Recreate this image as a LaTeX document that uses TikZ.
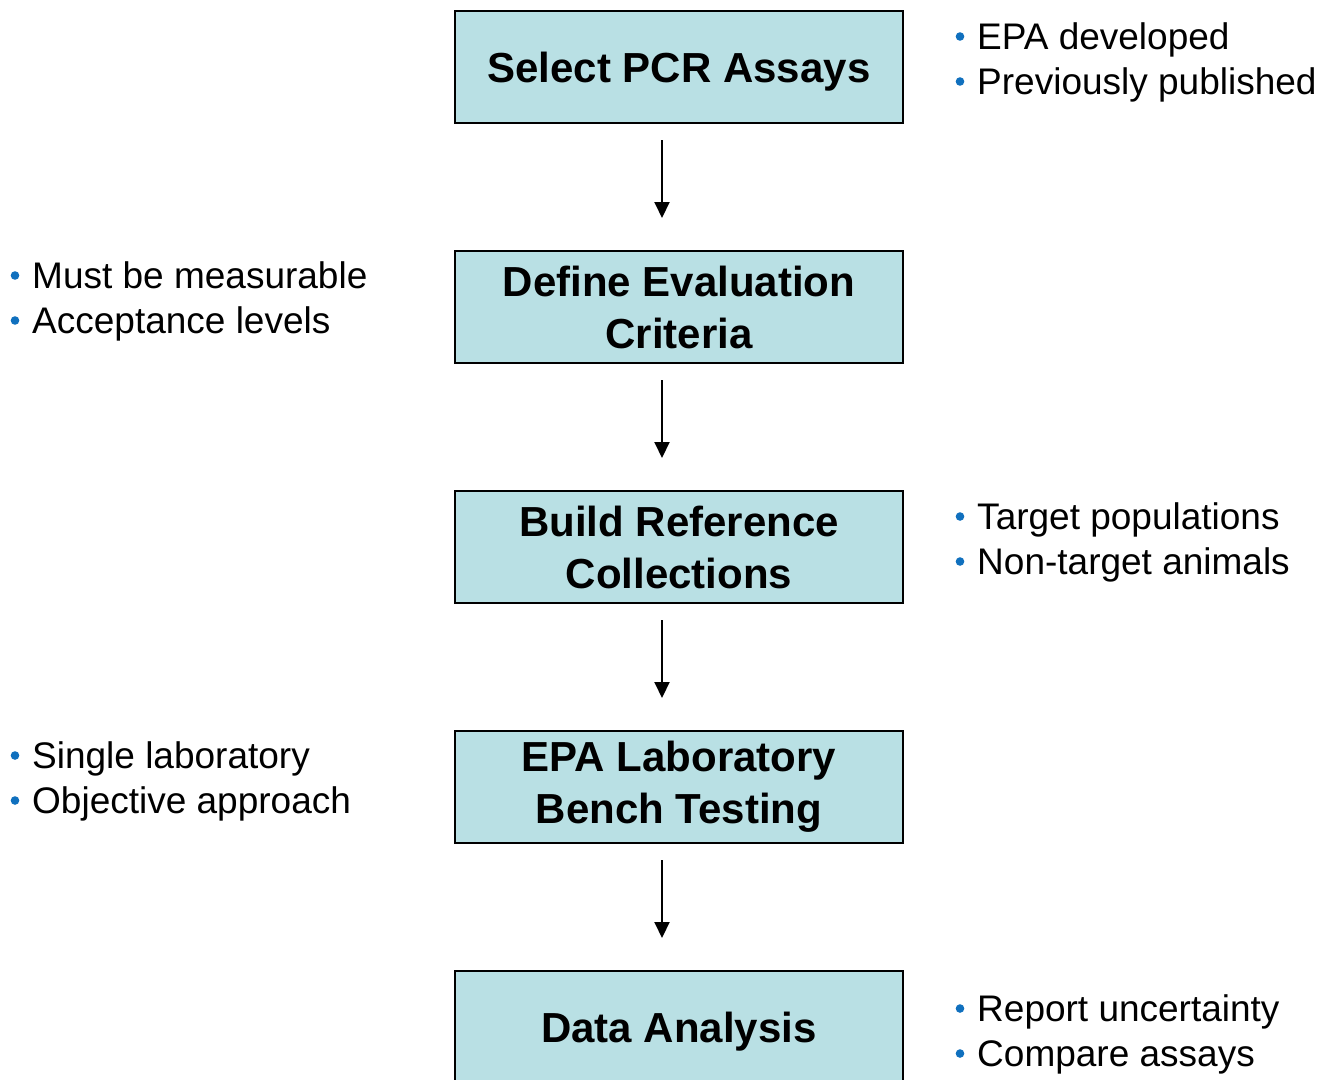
\documentclass[tikz,border=0pt]{standalone}
\usepackage{fontspec}
\setmainfont{Liberation Sans}
\usetikzlibrary{arrows.meta}
\definecolor{boxfill}{RGB}{185,224,228}
\definecolor{bulletblue}{RGB}{16,112,190}
\tikzset{
  stepbox/.style={draw=black, line width=2pt, fill=boxfill,
    minimum width=448pt, minimum height=112pt, inner sep=0pt,
    align=center, font=\fontsize{42}{52}\selectfont\bfseries},
  oneline/.style={text depth=0pt},
  item/.style={anchor=base west, inner sep=0pt,
    font=\fontsize{37}{45}\selectfont},
  flow/.style={line width=2pt, -{Triangle[width=15pt,length=16pt]}},
  dot/.style={fill=bulletblue}
}
\begin{document}
\begin{tikzpicture}[x=1pt,y=-1pt]
\useasboundingbox (0,0) rectangle (1321,1079);
\begin{scope}
\clip (0,0) rectangle (1321,1079);

% process steps
\node[stepbox,oneline] (s1) at (679,67)  {Select PCR Assays};
\node[stepbox] (s2) at (679,307) {Define Evaluation\\Criteria};
\node[stepbox] (s3) at (679,547) {Build Reference\\Collections};
\node[stepbox] (s4) at (679,787) {EPA Laboratory\\Bench Testing};
\node[stepbox,oneline] (s5) at (679,1027) {Data Analysis};
\end{scope}

% arrows between steps
\foreach \a/\b in {s1/s2,s2/s3,s3/s4,s4/s5}
  \draw[flow] ([xshift=-17pt,yshift=-16pt]\a.south) -- ([xshift=-17pt,yshift=32pt]\b.north);

% side notes
\node[item] (n1a) at (977,49)  {EPA developed};
\node[item] (n1b) at (977,94)  {Previously published};
\node[item] (n2a) at (32,288)  {Must be measurable};
\node[item] (n2b) at (32,333)  {Acceptance levels};
\node[item] (n3a) at (977,529) {Target populations};
\node[item] (n3b) at (977,574) {Non-target animals};
\node[item] (n4a) at (32,768)  {Single laboratory};
\node[item] (n4b) at (32,813)  {Objective approach};
\node[item] (n5a) at (977,1021) {Report uncertainty};
\node[item] (n5b) at (977,1066) {Compare assays};

% bullets
\foreach \n in {n1a,n1b,n2a,n2b,n3a,n3b,n4a,n4b,n5a,n5b}
  \fill[dot] ([xshift=-17pt,yshift=12.5pt]\n.base west) circle (4.3pt);
\end{tikzpicture}
\end{document}
